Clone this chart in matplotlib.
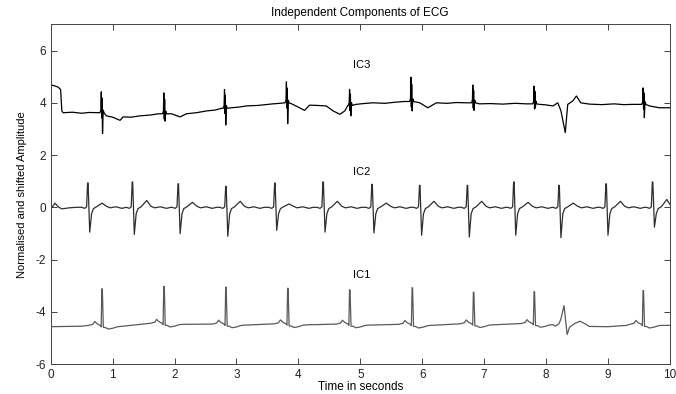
'''
  - Independent components of an ECG recording, shifted for display.
'''

from matplotlib import pyplot as plt
import numpy as np

# ---- IC3 (top, black) ----
ic3_beats = [0.82, 1.83, 2.81, 3.81, 4.83, 5.82, 6.82, 7.81, 9.57]
ic3_base = [3.62, 3.58, 3.79, 4.00, 3.90, 4.05, 4.00, 3.96, 3.94]
ic3_up = [4.42, 4.38, 4.51, 4.80, 4.51, 4.98, 4.68, 4.64, 4.57]
ic3_down = [2.82, 3.30, 3.15, 3.20, 3.50, 3.69, 3.71, 3.81, 3.43]
ic3_knot_t = [0.0, 0.05, 0.12, 0.16, 0.18, 0.20, 0.35, 0.5, 0.62, 0.77,
              0.90, 1.0, 1.12, 1.17, 1.3, 1.44, 1.6, 1.74,
              1.95, 2.09, 2.19, 2.35, 2.52, 2.65, 2.76,
              2.92, 3.05, 3.16, 3.35, 3.59, 3.7, 3.78,
              3.91, 4.1, 4.18, 4.3, 4.45, 4.56, 4.67, 4.75, 4.8,
              4.93, 5.05, 5.2, 5.4, 5.55, 5.71,
              5.96, 6.09, 6.23, 6.4, 6.55, 6.71,
              6.92, 7.1, 7.3, 7.5, 7.68,
              7.89, 8.0, 8.11, 8.19, 8.24, 8.31, 8.35, 8.43, 8.49, 8.56,
              8.7, 8.9, 9.1, 9.25, 9.4,
              9.67, 9.83, 10.0]
ic3_knot_v = [4.68, 4.66, 4.60, 4.51, 3.69, 3.62, 3.64, 3.60, 3.63, 3.62,
              3.50, 3.45, 3.33, 3.46, 3.45, 3.50, 3.53, 3.58,
              3.58, 3.46, 3.58, 3.62, 3.69, 3.72, 3.79,
              3.81, 3.84, 3.88, 3.90, 3.96, 3.98, 4.00,
              3.94, 3.71, 3.91, 3.90, 3.88, 3.69, 3.56, 3.69, 3.90,
              3.94, 3.97, 4.00, 3.98, 4.02, 4.05,
              4.00, 3.81, 4.00, 3.98, 4.01, 4.00,
              3.96, 3.97, 3.95, 3.98, 3.96,
              3.94, 3.92, 3.88, 4.00, 3.69, 2.86, 3.94, 4.07, 4.26, 4.00,
              3.95, 3.93, 3.96, 3.93, 3.94,
              3.88, 3.81, 3.81]

# ---- IC2 (middle) ----
ic2_beats = [0.60, 1.32, 2.06, 2.83, 3.62, 4.40, 5.19, 5.96, 6.73, 7.48, 8.21, 8.97, 9.72]
ic2_r = [0.93, 0.97, 0.90, 0.80, 0.93, 0.97, 0.88, 0.84, 0.84, 0.97, 0.84, 0.90, 0.97]
ic2_s = [-0.95, -1.04, -1.01, -1.11, -0.88, -0.95, -0.98, -1.07, -1.14, -1.07, -1.16, -1.07, -0.76]
ic2_t = [0.16, 0.26, 0.19, 0.23, 0.13, 0.23, 0.16, 0.23, 0.23, 0.19, 0.16, 0.23, 0.30]
ic2_knot_t = [0.0, 0.04, 0.07, 0.12, 0.18, 0.30, 0.42]
ic2_knot_v = [0.0, 0.05, 0.16, 0.02, -0.06, -0.02, 0.0]

# ---- IC1 (bottom) ----
ic1_beats = [0.83, 1.83, 2.83, 3.83, 4.83, 5.84, 6.83, 7.81, 9.57]
ic1_base = [-4.52, -4.44, -4.47, -4.46, -4.47, -4.48, -4.46, -4.45, -4.48]
ic1_r = [-3.12, -3.03, -3.06, -3.10, -3.16, -3.08, -3.25, -3.23, -3.19]
ic1_knot_t = [0.0, 0.3, 0.5, 8.15, 8.21, 8.24, 8.29, 8.34, 8.38, 8.46, 8.55,
              8.62, 8.7, 9.0, 9.3, 10.0]
ic1_knot_v = [-4.57, -4.56, -4.55, -4.55, -4.45, -4.27, -3.76, -4.87, -4.59, -4.45, -4.36,
              -4.45, -4.56, -4.57, -4.52, -4.52]

# beat shapes: (time offset, value relative to local baseline)
IC2_SHAPE = [(-0.10, 0.0), (-0.05, -0.04), (-0.02, 0.02), (-0.004, 'R'), (0.004, 'R'),
             (0.03, 'S'), (0.06, -0.25), (0.09, -0.05), (0.14, 0.02), (0.23, 'T'),
             (0.30, 0.04), (0.36, -0.02), (0.45, 0.02), (0.55, -0.04), (0.62, 0.0)]
IC1_SHAPE = [(-0.22, 0.0), (-0.15, 0.04), (-0.12, 0.15), (-0.08, 0.06), (-0.03, 0.0),
             (-0.015, -0.05), (-0.004, 'R'), (0.004, 'R'), (0.02, -0.08), (0.05, -0.08),
             (0.10, -0.14), (0.17, -0.11), (0.25, -0.05), (0.30, -0.04)]


def ic3_points():
    t, v = list(ic3_knot_t), list(ic3_knot_v)
    for tb, b, u, d in zip(ic3_beats, ic3_base, ic3_up, ic3_down):
        shape = [(-0.025, b), (-0.01, b + 0.1), (-0.003, u), (0.004, b - 0.2),
                 (0.010, b + 0.7 * (u - b)), (0.017, d), (0.028, b + 0.1), (0.04, b)]
        for dt, val in shape:
            t.append(tb + dt)
            v.append(val)
    return t, v


def ic2_points():
    t, v = list(ic2_knot_t), list(ic2_knot_v)
    for tb, r, s, tw in zip(ic2_beats, ic2_r, ic2_s, ic2_t):
        named = {'R': r, 'S': s, 'T': tw}
        for dt, val in IC2_SHAPE:
            t.append(tb + dt)
            v.append(named[val] if isinstance(val, str) else val)
    return t, v


def ic1_points():
    t, v = list(ic1_knot_t), list(ic1_knot_v)
    for tb, b, r in zip(ic1_beats, ic1_base, ic1_r):
        for dt, val in IC1_SHAPE:
            t.append(tb + dt)
            v.append(r if val == 'R' else b + val)
    return t, v


def sorted_xy(t, v):
    order = np.argsort(t, kind='stable')
    return np.asarray(t)[order], np.asarray(v)[order]


plt.rcParams['font.family'] = ['Liberation Sans', 'DejaVu Sans']
plt.rcParams['axes.unicode_minus'] = False
fig = plt.figure(figsize=(6.76, 3.94), dpi=100)
ax = fig.add_axes([0.075, 0.076, 0.916, 0.862])

for pts, col in ((ic3_points(), 'black'), (ic2_points(), '#2e2e2e'), (ic1_points(), '#5a5a5a')):
    x, y = sorted_xy(*pts)
    ax.plot(x, y, color=col, linewidth=0.9)

ax.text(5.02, 5.45, 'IC3', ha='center', va='center', fontsize=8)
ax.text(5.02, 1.34, 'IC2', ha='center', va='center', fontsize=8)
ax.text(5.02, -2.61, 'IC1', ha='center', va='center', fontsize=8)

ax.set_xlim(0, 10)
ax.set_ylim(-6, 7)
ax.set_xticks(range(0, 11))
ax.set_yticks(range(-6, 7, 2))
ax.tick_params(direction='in', top=True, right=True, length=4, width=0.6,
               labelsize=8.5, colors='#222222')
for sp in ax.spines.values():
    sp.set_linewidth(0.7)
    sp.set_color('#444444')

ax.set_title('Independent Components of ECG', fontsize=8.5, pad=6)
ax.set_xlabel('Time in seconds', fontsize=8.5, labelpad=0)
ax.set_ylabel('Normalised and shifted Amplitude', fontsize=8, labelpad=6)

plt.savefig('out.png', dpi=100)
